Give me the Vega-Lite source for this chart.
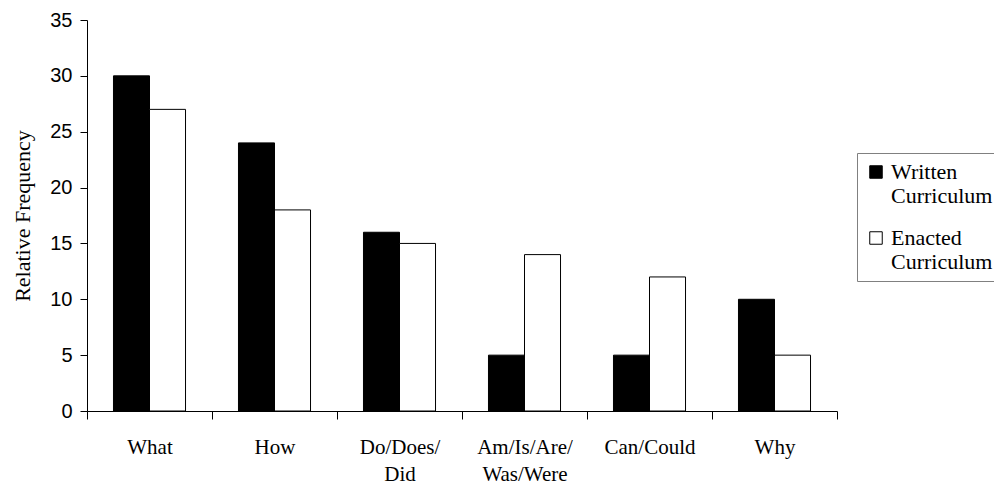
{
  "$schema": "https://vega.github.io/schema/vega-lite/v6.json",
  "width": 750,
  "height": 391,
  "autosize": {"type": "none"},
  "padding": {"left": 87, "top": 20, "right": 157, "bottom": 77},
  "background": "white",
  "config": {"view": {"stroke": null}},
  "data": {
    "values": [
      {"question": "What", "series": "Written Curriculum", "freq": 30},
      {"question": "What", "series": "Enacted Curriculum", "freq": 27},
      {"question": "How", "series": "Written Curriculum", "freq": 24},
      {"question": "How", "series": "Enacted Curriculum", "freq": 18},
      {"question": "Do/Does/Did", "series": "Written Curriculum", "freq": 16},
      {"question": "Do/Does/Did", "series": "Enacted Curriculum", "freq": 15},
      {"question": "Am/Is/Are/Was/Were", "series": "Written Curriculum", "freq": 5},
      {"question": "Am/Is/Are/Was/Were", "series": "Enacted Curriculum", "freq": 14},
      {"question": "Can/Could", "series": "Written Curriculum", "freq": 5},
      {"question": "Can/Could", "series": "Enacted Curriculum", "freq": 12},
      {"question": "Why", "series": "Written Curriculum", "freq": 10},
      {"question": "Why", "series": "Enacted Curriculum", "freq": 5}
    ]
  },
  "mark": {"type": "bar", "stroke": "black", "strokeWidth": 1},
  "encoding": {
    "x": {
      "field": "question",
      "type": "nominal",
      "sort": null,
      "scale": {"paddingInner": 0, "paddingOuter": 0},
      "axis": {
        "title": null,
        "labelAngle": 0,
        "tickBand": "extent",
        "tickSize": 8,
        "tickColor": "black",
        "domainColor": "black",
        "labelColor": "black",
        "labelFont": "Liberation Serif",
        "labelFontSize": 21,
        "labelLineHeight": 27,
        "labelPadding": 28,
        "labelBaseline": "middle",
        "labelLimit": 200,
        "labelExpr": "datum.label == 'Do/Does/Did' ? ['Do/Does/', 'Did'] : datum.label == 'Am/Is/Are/Was/Were' ? ['Am/Is/Are/', 'Was/Were'] : datum.label"
      }
    },
    "xOffset": {
      "field": "series",
      "type": "nominal",
      "sort": ["Written Curriculum", "Enacted Curriculum"],
      "scale": {"paddingInner": 0, "paddingOuter": 0.735}
    },
    "y": {
      "field": "freq",
      "type": "quantitative",
      "scale": {"domain": [0, 35], "nice": false},
      "axis": {
        "title": "Relative Frequency",
        "values": [0, 5, 10, 15, 20, 25, 30, 35],
        "grid": false,
        "tickSize": 7,
        "tickColor": "black",
        "domainColor": "black",
        "labelColor": "black",
        "labelFont": "Liberation Sans",
        "labelFontSize": 20,
        "labelPadding": 8,
        "titleFont": "Liberation Serif",
        "titleFontSize": 22,
        "titleFontWeight": "normal",
        "titleColor": "black",
        "titlePadding": 15
      }
    },
    "color": {
      "field": "series",
      "type": "nominal",
      "sort": ["Written Curriculum", "Enacted Curriculum"],
      "scale": {"domain": ["Written Curriculum", "Enacted Curriculum"], "range": ["black", "white"]},
      "legend": {
        "title": null,
        "orient": "none",
        "legendX": 770,
        "legendY": 133,
        "strokeColor": "#808080",
        "padding": 8,
        "symbolType": "square",
        "symbolSize": 156,
        "symbolStrokeColor": "black",
        "symbolStrokeWidth": 1,
        "labelFont": "Liberation Serif",
        "labelFontSize": 22,
        "labelLineHeight": 27,
        "labelColor": "black",
        "labelLimit": 300,
        "labelOffset": 4,
        "rowPadding": 20,
        "labelExpr": "split(datum.label, ' ')"
      }
    }
  }
}
